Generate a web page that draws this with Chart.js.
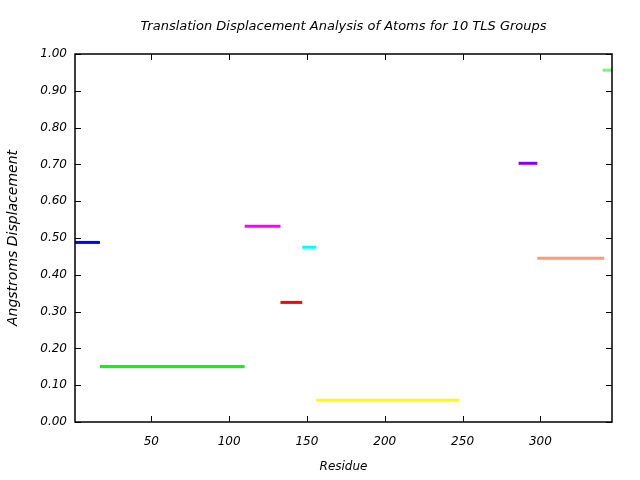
<!DOCTYPE html>
<html>
<head>
<meta charset="utf-8">
<script src="https://cdn.jsdelivr.net/npm/chart.js@4"></script>
<style>
    body { margin: 0; background: #fff; }
    #wrap { width: 640px; height: 480px; }
</style>
</head>
<body>
<div id="wrap"><canvas id="tlsChart" width="640" height="480"></canvas></div>
<script>
// TLS group residue ranges and displacement
var groupStart = [1, 17, 110, 133, 147, 156, 286, 298, 340];
var groupEnd = [17, 110, 133, 147, 156, 248, 298, 341, 346];
var groupValue = [0.488, 0.151, 0.532, 0.325, 0.475, 0.059, 0.703, 0.445, 0.956];
var xTicks = [50, 100, 150, 200, 250, 300];
var yTicks = [0, 0.1, 0.2, 0.3, 0.4, 0.5, 0.6, 0.7, 0.8, 0.9, 1.0];

var groupColor = ["#0000ff", "#00ff00", "#ff00ff", "#ff0000", "#00ffff",
    "#ffff00", "#8000ff", "#ff9a7a", "#80f080"];

var fontFamily = "'DejaVu Sans', sans-serif";

// box + inward ticks like gnuplot
var frame = {
    id: "frame",
    afterDraw: function (chart) {
        var ctx = chart.ctx;
        var a = chart.chartArea;
        var xs = chart.scales.x, ys = chart.scales.y;
        ctx.save();
        ctx.strokeStyle = "#000";
        ctx.lineWidth = 1.5;
        ctx.strokeRect(a.left, a.top, a.right - a.left, a.bottom - a.top);
        ctx.lineWidth = 1;
        ctx.beginPath();
        xTicks.forEach(function (t) {
            var px = Math.round(xs.getPixelForValue(t)) + 0.5;
            ctx.moveTo(px, a.bottom); ctx.lineTo(px, a.bottom - 6);
            ctx.moveTo(px, a.top); ctx.lineTo(px, a.top + 6);
        });
        yTicks.forEach(function (t) {
            var py = Math.round(ys.getPixelForValue(t)) + 0.5;
            ctx.moveTo(a.left, py); ctx.lineTo(a.left + 6, py);
            ctx.moveTo(a.right, py); ctx.lineTo(a.right - 6, py);
        });
        ctx.stroke();
        ctx.restore();
    }
};

var datasets = [];
for (var i = 0; i < groupValue.length; i++) {
    datasets.push({
        label: "Group " + (i + 1),
        data: [{x: groupStart[i], y: groupValue[i]}, {x: groupEnd[i], y: groupValue[i]}],
        borderColor: groupColor[i],
        backgroundColor: groupColor[i],
        borderWidth: 3,
        pointRadius: 0,
        fill: false,
        tension: 0,
        clip: false
    });
}

new Chart("tlsChart", {
    type: "line",
    data: { datasets: datasets },
    plugins: [frame],
    options: {
        responsive: false,
        animation: false,
        layout: { padding: { top: 0, right: 28, bottom: 0, left: 0 } },
        plugins: {
            legend: { display: false },
            tooltip: { enabled: false },
            title: {
                display: true,
                text: "Translation Displacement Analysis of Atoms for 10 TLS Groups",
                fullSize: false,
                color: "#000",
                font: { family: fontFamily, size: 13, style: "italic", weight: "normal" },
                padding: { top: 19, bottom: 19.4 }
            }
        },
        scales: {
            x: {
                type: "linear",
                min: 1,
                max: 346,
                afterBuildTicks: function (scale) {
                    scale.ticks = xTicks.map(function (v) { return {value: v}; });
                },
                afterFit: function (scale) { scale.height = 58; },
                grid: { display: false, drawTicks: false },
                border: { display: false },
                ticks: {
                    color: "#000",
                    padding: 13,
                    maxRotation: 0,
                    font: { family: fontFamily, size: 12, style: "italic" }
                },
                title: {
                    display: true,
                    text: "Residue",
                    color: "#000",
                    font: { family: fontFamily, size: 12, style: "italic" },
                    padding: { top: 0, bottom: 6 }
                }
            },
            y: {
                type: "linear",
                min: 0,
                max: 1,
                afterBuildTicks: function (scale) {
                    scale.ticks = yTicks.map(function (v) { return {value: v}; });
                },
                afterFit: function (scale) { scale.width = 75; },
                grid: { display: false, drawTicks: false },
                border: { display: false },
                ticks: {
                    color: "#000",
                    padding: 8,
                    font: { family: fontFamily, size: 12, style: "italic" },
                    callback: function (v) { return Number(v).toFixed(2); }
                },
                title: {
                    display: true,
                    text: "Angstroms Displacement",
                    color: "#000",
                    font: { family: fontFamily, size: 14, style: "italic" },
                    padding: { top: 5, bottom: 0 }
                }
            }
        }
    }
});
</script>
</body>
</html>
